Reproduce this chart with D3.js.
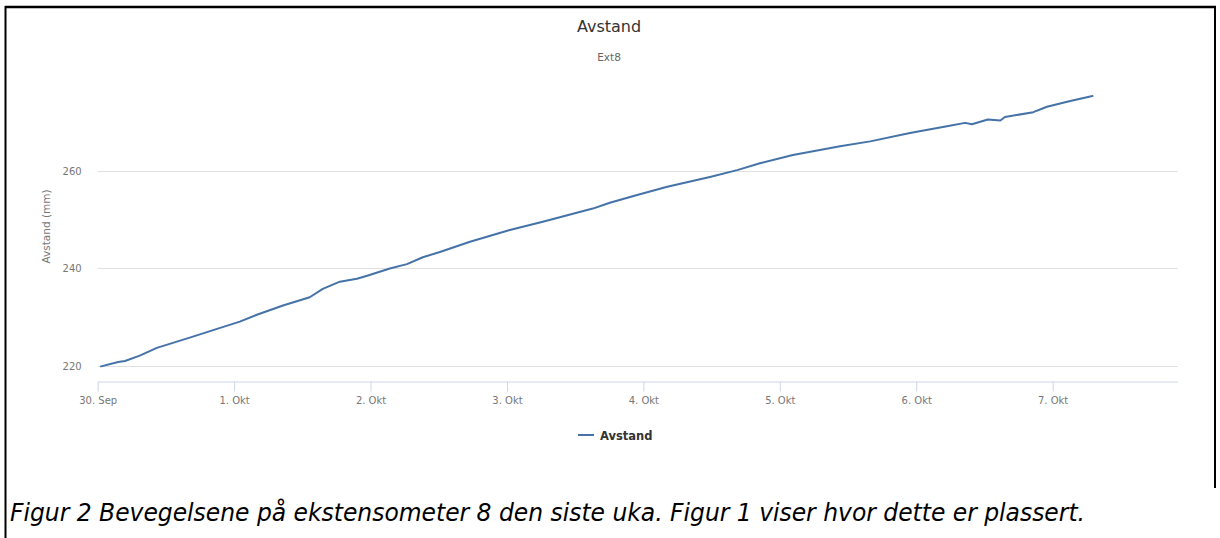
<!DOCTYPE html>
<html><head><meta charset="utf-8">
<script src="https://cdn.jsdelivr.net/npm/d3@7"></script>
<style>
html,body{margin:0;padding:0;background:#fff;}
svg{display:block;}
</style></head>
<body>
<svg id="chart" width="1220" height="538"></svg>
<script>
// ---- data ----
const chartTitle = "Avstand";
const chartSubtitle = "Ext8";
const yAxisTitle = "Avstand (mm)";
const seriesName = "Avstand";
const caption = "Figur 2 Bevegelsene på ekstensometer 8 den siste uka. Figur 1 viser hvor dette er plassert.";
// hours since 30. Sep 00:00
const hours = [0.6, 3.6, 4.8, 7.4, 10.4, 16.2, 21, 25, 28, 32.6, 37.3, 39.6, 42.6, 45.6, 47.4, 51.4, 54.4, 57.2, 60.2, 65.5, 72.5, 78.3, 87.1, 90.1, 94.9, 100.2, 107.7, 112.5, 116.5, 122.3, 130.6, 135.9, 142.9, 149.4, 152.6, 153.8, 156.6, 158.8, 159.6, 164.6, 167, 171.1, 175];
const values = [219.9, 220.8, 221.0, 222.1, 223.7, 225.8, 227.6, 229.1, 230.5, 232.4, 234.1, 235.8, 237.3, 237.9, 238.5, 240.0, 240.9, 242.3, 243.4, 245.5, 247.9, 249.6, 252.3, 253.5, 255.1, 256.8, 258.8, 260.2, 261.6, 263.3, 265.1, 266.1, 267.8, 269.2, 269.9, 269.6, 270.6, 270.4, 271.1, 272.1, 273.2, 274.4, 275.4];
const xTickHours = [0, 24, 48, 72, 96, 120, 144, 168];
const xTickLabels = ["30. Sep", "1. Okt", "2. Okt", "3. Okt", "4. Okt", "5. Okt", "6. Okt", "7. Okt"];
const yTicks = [220, 240, 260];
const xDomain = [0, 190];
const yDomain = [216.9, 278.7];

// ---- layout ----
const svg = d3.select("#chart");
const plot = {left: 97.7, right: 1177.7, top: 80, bottom: 381};
const font = "'DejaVu Sans', Verdana, sans-serif";

const x = d3.scaleLinear().domain(xDomain).range([plot.left, plot.right]);
const y = d3.scaleLinear().domain(yDomain).range([plot.bottom, plot.top]);

// frame
svg.append("line").attr("x1", 5).attr("x2", 1216).attr("y1", 7).attr("y2", 7).attr("stroke", "#000").attr("stroke-width", 2.5);
svg.append("line").attr("x1", 5.5).attr("x2", 5.5).attr("y1", 6).attr("y2", 538).attr("stroke", "#000").attr("stroke-width", 2);
svg.append("line").attr("x1", 1215).attr("x2", 1215).attr("y1", 6).attr("y2", 488).attr("stroke", "#000").attr("stroke-width", 2);

// title
svg.append("text").attr("x", 609).attr("y", 32).attr("text-anchor", "middle")
  .attr("font-family", font).attr("font-size", 16).attr("fill", "#333").text(chartTitle);
svg.append("text").attr("x", 609).attr("y", 61).attr("text-anchor", "middle")
  .attr("font-family", font).attr("font-size", 10.5).attr("fill", "#666").text(chartSubtitle);

// grid
svg.append("g").selectAll("line").data(yTicks).join("line")
  .attr("x1", plot.left).attr("x2", plot.right)
  .attr("y1", d => Math.round(y(d)) + 0.5).attr("y2", d => Math.round(y(d)) + 0.5)
  .attr("stroke", "#e0e0e0").attr("stroke-width", 1);

// y axis labels
const yAxis = d3.axisLeft(y).tickValues(yTicks).tickSize(0).tickPadding(0);
const gy = svg.append("g").attr("transform", `translate(${plot.left - 16},0)`).call(yAxis);
gy.select(".domain").remove();
gy.selectAll("text").attr("font-family", font).attr("font-size", 10).attr("fill", "#777");

// y axis title
svg.append("text").attr("transform", `translate(50,${(plot.top + plot.bottom) / 2 - 4}) rotate(-90)`)
  .attr("text-anchor", "middle").attr("font-family", font).attr("font-size", 10.5).attr("fill", "#777").text(yAxisTitle);

// x axis
const xAxis = d3.axisBottom(x).tickValues(xTickHours).tickFormat((d, i) => xTickLabels[i]).tickSize(10).tickPadding(5).tickSizeOuter(0);
const gx = svg.append("g").attr("transform", `translate(0,${plot.bottom + 0.5})`).call(xAxis);
gx.select(".domain").attr("stroke", "#ccd6eb");
gx.selectAll(".tick line").attr("stroke", "#ccd6eb");
gx.selectAll("text").attr("font-family", font).attr("font-size", 10).attr("fill", "#777");

// series
const data = hours.map((h, i) => ({h, v: values[i]}));
const line = d3.line().x(d => x(d.h)).y(d => y(d.v));
svg.append("path").datum(data).attr("d", line).attr("fill", "none")
  .attr("stroke", "#4572a7").attr("stroke-width", 2).attr("stroke-linejoin", "round").attr("stroke-linecap", "round");

// legend
const lg = svg.append("g").attr("transform", "translate(578,435)");
lg.append("line").attr("x1", 0).attr("x2", 16).attr("y1", 0).attr("y2", 0).attr("stroke", "#4572a7").attr("stroke-width", 2);
lg.append("text").attr("x", 22).attr("y", 4.5).attr("font-family", font).attr("font-size", 11.5).attr("font-weight", "bold").attr("fill", "#333").text(seriesName);

// caption
svg.append("text").attr("x", 10).attr("y", 521).attr("font-family", "'Liberation Sans Narrow', 'DejaVu Sans Condensed', 'Liberation Sans', sans-serif")
  .attr("font-style", "italic").attr("font-size", 24).attr("fill", "#000")
  .attr("textLength", 1075).attr("lengthAdjust", "spacingAndGlyphs").text(caption);
</script>
</body></html>
